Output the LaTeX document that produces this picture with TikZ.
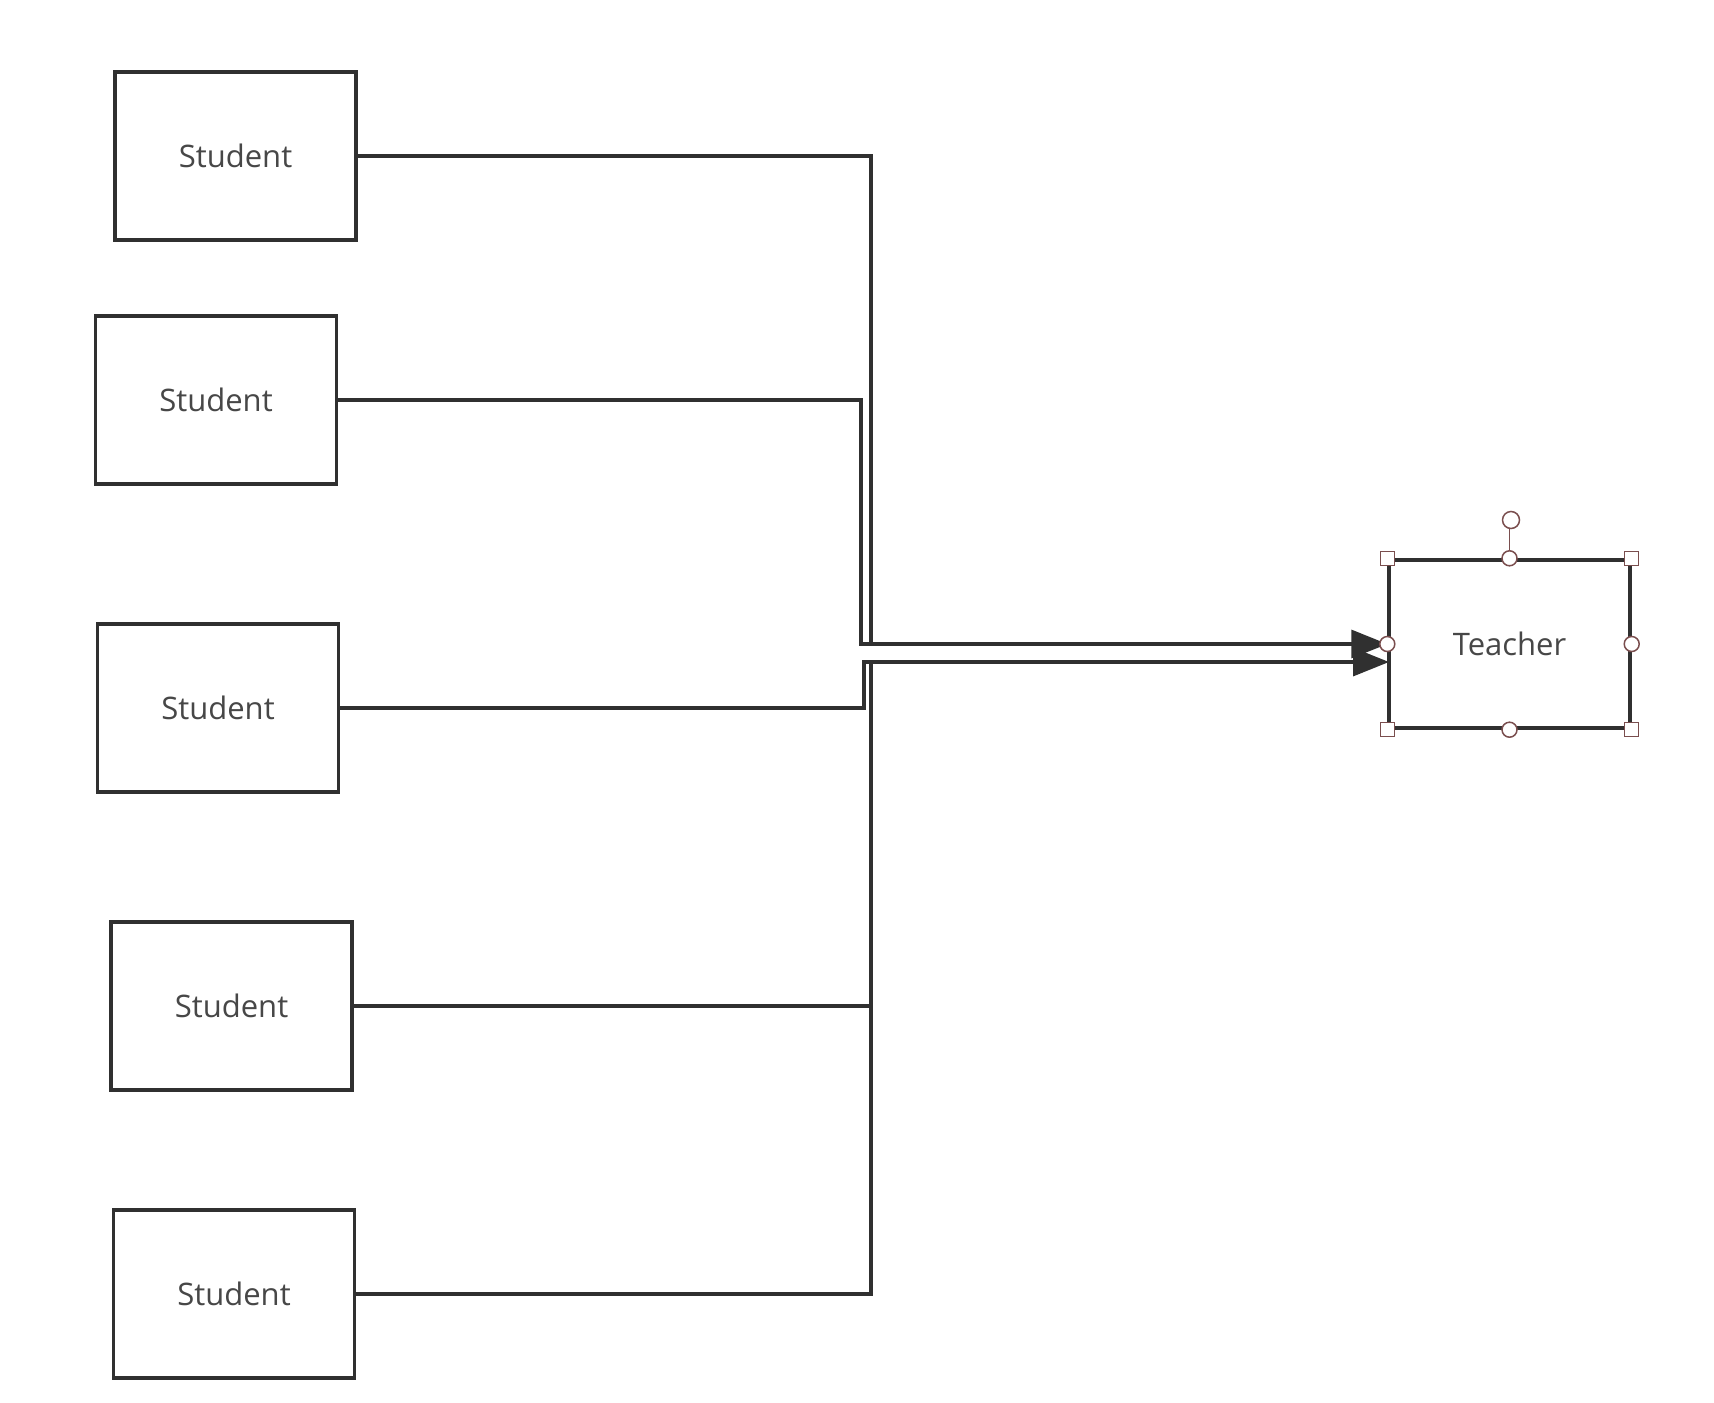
\documentclass[tikz,border=0pt]{standalone}
\usepackage{fontspec}
\setmainfont{Open Sans}
\usetikzlibrary{arrows.meta}
\definecolor{boxline}{HTML}{303030}
\definecolor{txt}{HTML}{474747}
\definecolor{handle}{HTML}{7A4E4E}
\begin{document}
\begin{tikzpicture}[x=1pt,y=-1pt,
  box/.style={draw=boxline,line width=3.4pt,minimum width=241pt,minimum height=168pt,inner sep=0pt,
    font=\fontsize{31}{36}\selectfont,text=txt},
  conn/.style={draw=boxline,line width=3.4pt},
  arr/.style={conn,-{Triangle[length=36pt,width=28pt]}},
  hsq/.style={draw=handle,fill=white,line width=1.5pt,minimum size=14pt,inner sep=0pt},
  hci/.style={draw=handle,fill=white,line width=1.5pt,circle,minimum size=15pt,inner sep=0pt}]
\useasboundingbox (0,0) rectangle (1714,1403);
\fill[white] (0,0) rectangle (1714,1403);
\node[box] (s1) at (235.5,156) {Student};
\node[box] (s2) at (216,400) {Student};
\node[box] (s3) at (218,708) {Student};
\node[box] (s4) at (231.5,1006) {Student};
\node[box] (s5) at (234,1294) {Student};
\node[box] (t) at (1509.5,644) {Teacher};
\coordinate (j1) at (871,644);
\coordinate (j2) at (861,644);
\coordinate (j3) at (864,662);
\coordinate (j4) at (871,662);
\coordinate (t2) at (1389,662);
\draw[conn] (s1.east) -| (j1);
\draw[arr] (s2.east) -| (j2) -- (t.west);
\draw[conn] (s4.east) -| (j4);
\draw[conn] (s5.east) -| (j4);
\draw[arr] (s3.east) -| (j3) -- (t2);
% selection handles
\draw[handle,line width=1.5pt] (t.north) -- ++(0,-32);
\node[hci,minimum size=17pt] (rot) at (1511,520) {};
\node[hsq] (h1) at (t.north west) {};
\node[hsq] (h2) at (t.north east) {};
\node[hsq] (h3) at (t.south west) {};
\node[hsq] (h4) at (t.south east) {};
\node[hci] (h5) at (t.north) {};
\node[hci] (h6) at (t.south) {};
\node[hci] (h7) at (t.west) {};
\node[hci] (h8) at (t.east) {};
\end{tikzpicture}
\end{document}
